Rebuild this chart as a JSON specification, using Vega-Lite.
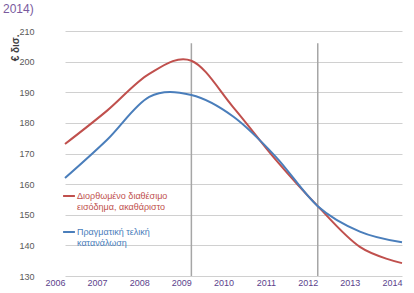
{
  "$schema": "https://vega.github.io/schema/vega-lite/v6.json",
  "autosize": "none",
  "width": 370,
  "height": 245,
  "padding": {"left": 44, "top": 31, "right": 0, "bottom": 17},
  "background": "white",
  "title": {"text": "2014)", "anchor": "start", "frame": "group", "dx": -41, "offset": 11, "fontSize": 12, "fontWeight": "normal", "font": "Liberation Sans", "color": "#7a5a9e"},
  "config": {"view": {"stroke": null}, "font": "Liberation Sans"},
  "datasets": {
    "series": [
      {"year": "2006", "series": "Διορθωμένο διαθέσιμο εισόδημα, ακαθάριστο", "value": 173.1},
      {"year": "2007", "series": "Διορθωμένο διαθέσιμο εισόδημα, ακαθάριστο", "value": 184.0},
      {"year": "2008", "series": "Διορθωμένο διαθέσιμο εισόδημα, ακαθάριστο", "value": 196.0},
      {"year": "2009", "series": "Διορθωμένο διαθέσιμο εισόδημα, ακαθάριστο", "value": 200.3},
      {"year": "2010", "series": "Διορθωμένο διαθέσιμο εισόδημα, ακαθάριστο", "value": 185.0},
      {"year": "2011", "series": "Διορθωμένο διαθέσιμο εισόδημα, ακαθάριστο", "value": 168.0},
      {"year": "2012", "series": "Διορθωμένο διαθέσιμο εισόδημα, ακαθάριστο", "value": 152.8},
      {"year": "2013", "series": "Διορθωμένο διαθέσιμο εισόδημα, ακαθάριστο", "value": 139.5},
      {"year": "2014", "series": "Διορθωμένο διαθέσιμο εισόδημα, ακαθάριστο", "value": 134.2},
      {"year": "2006", "series": "Πραγματική τελική κατανάλωση", "value": 162.0},
      {"year": "2007", "series": "Πραγματική τελική κατανάλωση", "value": 174.5},
      {"year": "2008", "series": "Πραγματική τελική κατανάλωση", "value": 188.5},
      {"year": "2009", "series": "Πραγματική τελική κατανάλωση", "value": 189.1},
      {"year": "2010", "series": "Πραγματική τελική κατανάλωση", "value": 182.0},
      {"year": "2011", "series": "Πραγματική τελική κατανάλωση", "value": 169.0},
      {"year": "2012", "series": "Πραγματική τελική κατανάλωση", "value": 152.8},
      {"year": "2013", "series": "Πραγματική τελική κατανάλωση", "value": 144.5},
      {"year": "2014", "series": "Πραγματική τελική κατανάλωση", "value": 141.0}
    ],
    "markers": [{"year": "2009"}, {"year": "2012"}]
  },
  "layer": [
    {
      "data": {"name": "markers"},
      "mark": {"type": "rule", "color": "#a6a6a6", "strokeWidth": 1.5},
      "encoding": {
        "x": {"field": "year", "type": "ordinal"},
        "y": {
          "datum": 206, "type": "quantitative",
          "scale": {"domain": [130, 210], "nice": false, "zero": false},
          "axis": {"values": [130,140,150,160,170,180,190,200,210], "grid": true, "labelOverlap": false, "title": "€ δισ.", "titleFontSize": 10, "titleFontWeight": "bold", "titleColor": "#404040", "titleAngle": -90, "titleAlign": "right", "titleBaseline": "middle", "titleX": -29, "titleY": 3, "domain": false, "ticks": false, "labelFontSize": 9, "labelColor": "#595959", "labelPadding": 10, "gridColor": "#d0d0d0", "gridWidth": 1, "gridOpacity": 1}
        },
        "y2": {"datum": 130}
      }
    },
    {
      "data": {"name": "series"},
      "mark": {"type": "line", "interpolate": "cardinal", "tension": 0, "strokeWidth": 2},
      "encoding": {
        "x": {
          "field": "year", "type": "ordinal",
          "scale": {"type": "point", "domain": ["2006","2007","2008","2009","2010","2011","2012","2013","2014"], "range": [21, 358], "padding": 0},
          "axis": {"title": null, "domain": false, "ticks": false, "grid": false, "labelAngle": 0, "labelFontSize": 9, "labelColor": "#5b3f8c", "labelPadding": 6, "labelOverlap": false}
        },
        "y": {
          "field": "value", "type": "quantitative",
          "scale": {"domain": [130, 210], "nice": false, "zero": false},
          "axis": {"values": [130,140,150,160,170,180,190,200,210], "grid": true, "labelOverlap": false, "title": "€ δισ.", "titleFontSize": 10, "titleFontWeight": "bold", "titleColor": "#404040", "titleAngle": -90, "titleAlign": "right", "titleBaseline": "middle", "titleX": -29, "titleY": 3, "domain": false, "ticks": false, "labelFontSize": 9, "labelColor": "#595959", "labelPadding": 10, "gridColor": "#d0d0d0", "gridWidth": 1, "gridOpacity": 1}
        },
        "color": {
          "field": "series", "type": "nominal",
          "scale": {"domain": ["Διορθωμένο διαθέσιμο εισόδημα, ακαθάριστο", "Πραγματική τελική κατανάλωση"], "range": ["#c0504d", "#4a7ebb"]},
          "legend": {
            "title": null, "orient": "none", "legendX": 18, "legendY": 158,
            "symbolType": "stroke", "symbolSize": 140, "symbolStrokeWidth": 2,
            "labelFontSize": 9, "labelOffset": 1, "rowPadding": 13, "labelLimit": 200,
            "labelExpr": "datum.label == 'Πραγματική τελική κατανάλωση' ? ['Πραγματική τελική', 'κατανάλωση'] : ['Διορθωμένο διαθέσιμο', 'εισόδημα, ακαθάριστο']",
            "encode": {"labels": {"update": {"fill": {"signal": "datum.value == 'Πραγματική τελική κατανάλωση' ? '#4a7ebb' : '#c0504d'"}}}}
          }
        }
      }
    }
  ]
}
